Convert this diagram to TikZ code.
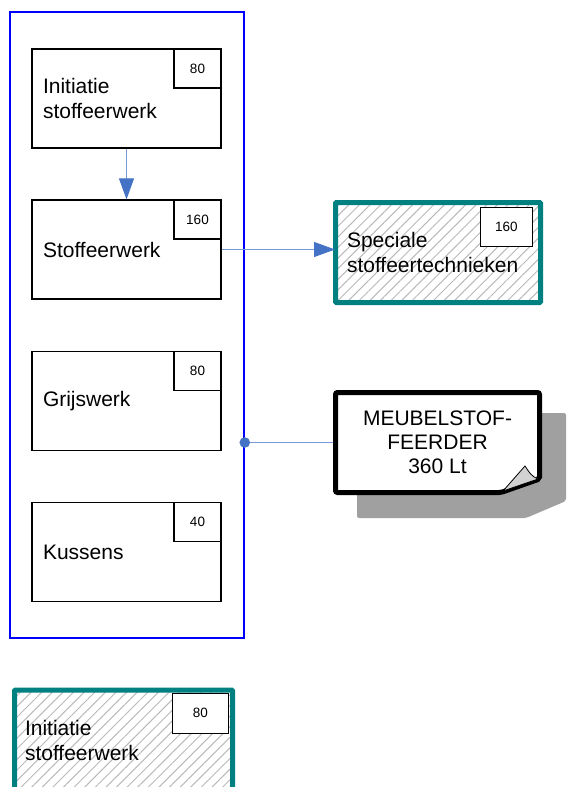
\documentclass[tikz,border=0pt]{standalone}
\usepackage{fontspec}
\setmainfont{Liberation Sans}
\usetikzlibrary{arrows.meta,patterns.meta}

\definecolor{frameblue}{RGB}{0,0,255}
\definecolor{linkblue}{RGB}{120,152,216}
\definecolor{tipblue}{RGB}{68,114,196}
\definecolor{tealrim}{RGB}{0,128,128}
\definecolor{shadowgray}{RGB}{160,160,160}
\definecolor{foldgray}{RGB}{210,210,210}

\tikzset{
  taskbox/.style={draw,line width=1.2pt,minimum width=188pt,minimum height=99pt,
    text width=167pt,inner xsep=11pt,align=left,font=\fontsize{21}{25}\selectfont},
  numbox/.style={draw,fill=white,line width=1.2pt,minimum width=47pt,minimum height=39pt,
    inner sep=0pt,anchor=north east,font=\fontsize{13.5}{15}\selectfont},
  hatchbox/.style={draw=tealrim,line width=5pt,rounded corners=1pt,
    pattern={Lines[angle=45,distance=7.5pt,line width=1pt]},pattern color=gray!55,
    minimum height=100pt,align=left,font=\fontsize{21}{25}\selectfont},
  link/.style={draw=linkblue,line width=0.9pt},
  linkarrow/.style={link,-{Triangle[length=21pt,width=15pt,color=tipblue]}}
}

\begin{document}
\begin{tikzpicture}[x=1pt,y=-1pt]
  \clip (0,0) rectangle (566,787);
  % group frame
  \node[draw=frameblue,line width=1.5pt,minimum width=234pt,minimum height=626pt,inner sep=0pt] (lane) at (127,325) {};

  \node[taskbox] (init) at (126.5,98.5) {Initiatie\\stoffeerwerk};
  \node[numbox] (initn) at (init.north east) {80};
  \node[taskbox] (stof) at (126.5,249.5) {Stoffeerwerk};
  \node[numbox] (stofn) at (stof.north east) {160};
  \node[taskbox] (grijs) at (126.5,401) {Grijswerk};
  \node[numbox] (grijsn) at (grijs.north east) {80};
  \node[taskbox] (kuss) at (126.5,552) {Kussens};
  \node[numbox] (kussn) at (kuss.north east) {40};

  % special techniques
  \node[hatchbox,minimum width=205pt,text width=182pt,inner xsep=11.5pt] (spec) at (438,252.5) {Speciale\\stoffeertechnieken};
  \node[numbox,minimum width=52pt] (specn) at ([xshift=-8pt,yshift=-5pt]spec.north east) {160};

  % note with shadow
  \fill[shadowgray,rounded corners=2pt] (357,413) -- (566,413) -- (566,501) -- (526,518) -- (357,518) -- cycle;
  \draw[line width=5pt,fill=white,rounded corners=2pt] (335.5,392.5) -- (539.5,392.5) -- (539.5,479)
    -- (501,492.5) -- (335.5,492.5) -- cycle;
  \draw[fill=foldgray,line width=0.8pt] (503,491) -- (525,466) .. controls (529,472) and (531,476) .. (538,479) -- cycle;
  \node[minimum width=209pt,minimum height=105pt,outer sep=0pt,align=center,
    font=\fontsize{21}{24}\selectfont] (feeder) at (437.5,442.5) {MEUBELSTOF-\\FEERDER\\360 Lt};

  % bottom box
  \node[hatchbox,minimum width=218pt,text width=197pt,inner xsep=10.5pt] (init2) at (123.5,740) {Initiatie\\stoffeerwerk};
  \node[numbox,minimum width=56pt,minimum height=40pt] (init2n) at ([xshift=-6pt,yshift=-5pt]init2.north east) {80};

  % connectors
  \draw[linkarrow] (init.south) -- (stof.north);
  \draw[linkarrow] (stof.east) -- (stof.east -| spec.west);
  \coordinate (tap) at (lane.east |- feeder.west);
  \draw[link] (tap) -- (feeder.west);
  \fill[tipblue] (tap) circle (5.3pt);
\end{tikzpicture}
\end{document}
